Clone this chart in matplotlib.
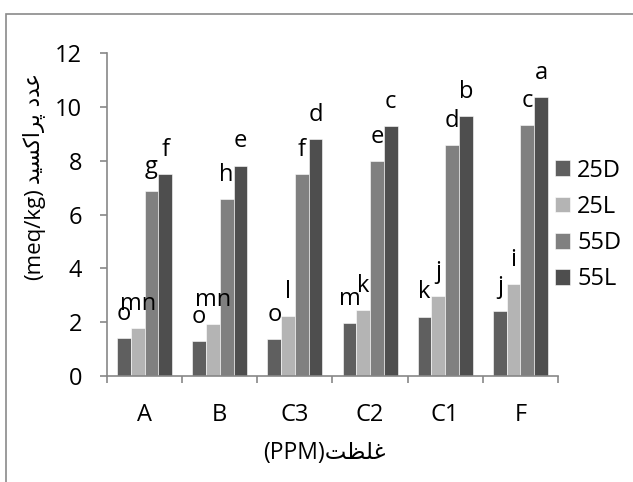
import matplotlib
matplotlib.use('Agg')
import matplotlib.pyplot as plt
from matplotlib.patches import Rectangle
import numpy as np

plt.rcParams['font.family'] = ['Open Sans', 'DejaVu Sans']

# Данные
categories = ['A', 'B', 'C3', 'C2', 'C1', 'F']
series = ['25D', '25L', '55D', '55L']
v_25D = [1.40, 1.31, 1.36, 1.98, 2.21, 2.42]
v_25L = [1.77, 1.92, 2.24, 2.44, 2.96, 3.43]
v_55D = [6.88, 6.57, 7.51, 8.00, 8.58, 9.32]
v_55L = [7.52, 7.82, 8.80, 9.28, 9.66, 10.36]
l_25D = ['o', 'o', 'o', 'm', 'k', 'j']
l_25L = ['mn', 'mn', 'l', 'k', 'j', 'i']
l_55D = ['g', 'h', 'f', 'e', 'd', 'c']
l_55L = ['f', 'e', 'd', 'c', 'b', 'a']
yticks = [0, 2, 4, 6, 8, 10, 12]

# Подписи осей (персидский текст в видимом порядке, формы написания букв)
ylabel_fa = '\uFEAA\uFBFF\uFEB4\uFB90\uFE8D\uFEAE\uFB58 \uFEA9\uFEAA\uFECB'
ylabel_unit = '(meq/kg)'
xlabel = '(PPM)' + '\uFE96\uFEC8\uFEE0\uFECF'

colors = ['#5f5f5f', '#b4b4b4', '#808080', '#4e4e4e']
gray = '#878787'
fs = 17

W, H = 633, 482
fig = plt.figure(figsize=(W / 100, H / 100), dpi=100)
ax = fig.add_axes([107 / W, 1 - 376 / H, (558 - 107) / W, (376 - 53) / H])

# Рамка вокруг всей картинки (обрезана справа и снизу)
fig.patches.append(Rectangle((5.5 / W, -0.1), 1.2, 1.1 - 13.5 / H, transform=fig.transFigure,
                             fill=False, edgecolor='#8a8a8a', linewidth=1.2))

x = np.arange(len(categories))
width = 0.183
values = [v_25D, v_25L, v_55D, v_55L]
letters = [l_25D, l_25L, l_55D, l_55L]
for i in range(4):
    pos = x + (i - 1.5) * width
    ax.bar(pos, values[i], width, color=colors[i], edgecolor='white', linewidth=0.4, label=series[i])
    for px, val, lab in zip(pos, values[i], letters[i]):
        ax.annotate(lab, (px, val), xytext=(0, 13), textcoords='offset points',
                    ha='center', va='baseline', fontsize=fs)

ax.set_xlim(-0.5, 5.5)
ax.set_ylim(0, 12)
ax.set_yticks(yticks)
ax.set_xticks(np.arange(-0.5, 6, 1))
ax.set_xticklabels([])
ax.set_xticks(x, minor=True)
ax.set_xticklabels(categories, minor=True)
ax.tick_params(axis='x', which='major', length=5, width=1.2, color=gray, direction='out')
ax.tick_params(axis='x', which='minor', length=0, pad=19.5, labelsize=fs)
ax.tick_params(axis='y', length=5, width=1.2, color=gray, pad=13, labelsize=fs)
for s in ['top', 'right']:
    ax.spines[s].set_visible(False)
for s in ['left', 'bottom']:
    ax.spines[s].set_color(gray)
    ax.spines[s].set_linewidth(1.2)

ax.legend(loc='center left', bbox_to_anchor=(555 / W, 1 - 225 / H), bbox_transform=fig.transFigure,
          frameon=False, fontsize=fs, handlelength=0.64, handleheight=0.64, handletextpad=0.3,
          labelspacing=0.52, borderpad=0, borderaxespad=0)

# Подписи осей
fig.text(34.5 / W, 1 - 234 / H, ylabel_unit, rotation=90, ha='center', va='center', fontsize=16)
fig.text(34 / W, 1 - 128 / H, ylabel_fa, rotation=90, ha='center', va='center', fontsize=15.5,
         family='DejaVu Sans')
fig.text(324 / W, 1 - 453 / H, xlabel, ha='center', va='center', fontsize=16.5)

fig.savefig('out.png', dpi=100)
